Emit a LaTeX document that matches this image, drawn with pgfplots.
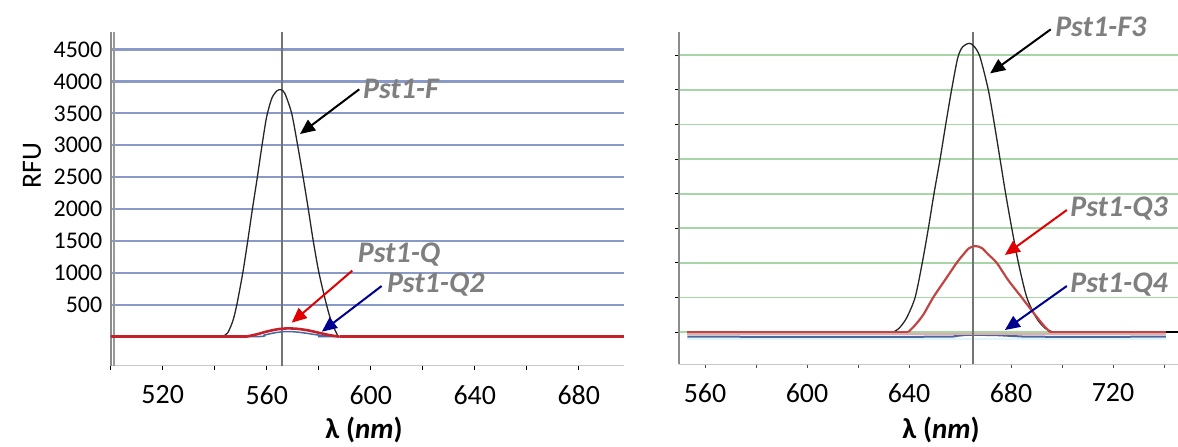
\documentclass[border=0pt]{standalone}
\usepackage{fontspec}
\setmainfont{Carlito}
\usepackage{pgfplots}
\pgfplotsset{compat=1.18}
\usetikzlibrary{arrows.meta}
\definecolor{gridblue}{HTML}{8A9AC8}
\definecolor{gridgreen}{HTML}{A6D6A6}
\definecolor{lblgray}{HTML}{7F7F7F}
\definecolor{qred}{HTML}{C8202A}
\definecolor{q3red}{HTML}{C04545}
\definecolor{q4blue}{HTML}{4A68A0}
\definecolor{arrred}{HTML}{E00000}
\definecolor{arrblue}{HTML}{000090}
\tikzset{lbl/.style={anchor=west, text=lblgray, inner sep=0pt, font=\bfseries\itshape\fontsize{30}{30}\selectfont},
  arr/.style={line width=2bp, -{Triangle[length=15bp,width=13bp]}}}
\begin{document}
\begin{tikzpicture}
\useasboundingbox (0,0) rectangle (1178bp,447bp);
% ---------------- left panel ----------------
\begin{axis}[
 at={(110.7bp,81.3bp)}, anchor=south west, scale only axis, width=513bp, height=334bp,
 xmin=500, xmax=697.3, ymin=-455, ymax=4780,
 axis x line=bottom, axis y line=left,
 x axis line style={-, draw=black!22, line width=1bp},
 y axis line style={-, draw=black!45, line width=2bp},
 xtick={500,520,...,680}, xticklabels={,520,,560,,600,,640,,680},
 ytick={500,1000,...,4500},
 ymajorgrids, grid style={gridblue, line width=2.2bp},
 tick align=outside, major tick length=4bp,
 xtick style={black, line width=0.8bp},
 ytick style={draw=none},
 xticklabel style={font=\fontsize{28}{28}\selectfont, yshift=-12bp},
 yticklabel style={font=\fontsize{24}{24}\selectfont, xshift=-1bp},
 /pgf/number format/assume math mode=true, /pgf/number format/1000 sep={},
 clip=false,
]
\addplot[black!40, line width=1.2bp] coordinates {(501.3,-455) (501.3,4780)};
\addplot[black!55, line width=1.5bp] coordinates {(565.8,-455) (565.8,4780)};
\addplot[black!85, line width=1.3bp] coordinates {(500,0) (543,0)};
\addplot[black!85, line width=1.3bp, smooth, tension=0.45] coordinates {(543,0) (545,60) (547,250) (548.5,500) (550.8,1000) (552.7,1500) (554.5,2000) (556.4,2500) (558.2,3000) (560,3450) (562,3740) (564,3855) (565.5,3870) (567,3810) (569.6,3500) (571.9,3000) (574,2500) (576,2000) (577.9,1500) (580.1,1000) (583,500) (585,220) (587.5,0)};
\addplot[black!85, line width=1.3bp] coordinates {(587.5,0) (697.3,0)};
\addplot[q4blue, line width=1.5bp, smooth, tension=0.4] coordinates {(500,0) (555,0) (559,25) (563,60) (567,80) (571,75) (575,55) (579,30) (583,10) (586,0) (697.3,0)};
\addplot[qred, line width=2.6bp] coordinates {(500,0) (552,0)};
\addplot[qred, line width=2.6bp, smooth, tension=0.4] coordinates {(552,0) (556,35) (560,80) (564,115) (568,130) (572,122) (576,98) (580,62) (584,25) (588,0)};
\addplot[qred, line width=2.6bp] coordinates {(588,0) (697.3,0)};
\draw[arr, black] (axis cs:595.6,3877) -- (axis cs:572.8,3176);
\node[lbl] at (axis cs:597,3877) {Pst1-F};
\draw[arr, arrred] (axis cs:592.9,1034) -- (axis cs:569.6,219);
\node[lbl] at (axis cs:595,1280) {Pst1-Q};
\draw[arr, arrblue] (axis cs:604.2,794) -- (axis cs:581.2,78);
\node[lbl] at (axis cs:606.2,810) {Pst1-Q2};
\end{axis}
% ---------------- right panel ----------------
\begin{axis}[
 at={(679bp,83bp)}, anchor=south west, scale only axis, width=499bp, height=332.3bp,
 xmin=549.8, xmax=745.5, ymin=-462, ymax=4340,
 axis x line=bottom, axis y line=left,
 x axis line style={-, draw=black!22, line width=1bp},
 y axis line style={-, draw=black!45, line width=1.5bp},
 xtick={560,580,...,740}, xticklabels={560,,600,,640,,680,,720,},
 ytick={0,500,...,4000}, yticklabels={},
 ymajorgrids, grid style={gridgreen, line width=1.8bp},
 tick align=outside, major tick length=4bp,
 xtick style={black!70, line width=0.8bp},
 ytick style={black, line width=1bp},
 xticklabel style={font=\fontsize{28}{28}\selectfont, yshift=-12bp},
 /pgf/number format/assume math mode=true, /pgf/number format/1000 sep={},
 clip=false,
]
\addplot[cyan!12, line width=2bp] coordinates {(553.1,-100) (740.7,-100)};
\addplot[q4blue, line width=2bp, smooth, tension=0.4] coordinates {(553.1,-68) (650,-68) (658,-58) (663,-40) (667,-42) (674,-45) (682,-60) (690,-68) (740.7,-68)};
\addplot[q3red!45, line width=1.6bp] coordinates {(553.1,-32) (740.7,-32)};
\addplot[black!55, line width=1.5bp] coordinates {(665,-462) (665,4340)};
\addplot[black!85, line width=1.3bp] coordinates {(553.1,0) (633.8,0)};
\addplot[black!85, line width=1.3bp, smooth, tension=0.45] coordinates {(633.8,0) (636,50) (639,200) (642.4,500) (645.2,1000) (647.6,1500) (649.8,2000) (652.2,2500) (654.4,3000) (656.7,3500) (659.1,3960) (661,4120) (663.6,4172) (665.5,4130) (667.8,3980) (671.1,3500) (673.5,3000) (675.7,2500) (677.9,2000) (680.3,1500) (682.9,1000) (686.2,500) (690,200) (693.5,50) (696.6,0)};
\addplot[black!85, line width=1.3bp] coordinates {(696.6,0) (740.7,0)};
\addplot[q3red, line width=2.2bp] coordinates {(553.1,0) (639.7,0)};
\addplot[q3red, line width=2.2bp, smooth, tension=0.45] coordinates {(639.7,0) (642.4,100) (645.6,250) (649.5,500) (654.1,750) (658.7,1000) (661.3,1120) (663.5,1210) (665.9,1243) (668.5,1215) (671.1,1120) (674.4,1000) (678.9,750) (684.2,500) (689.4,250) (692.7,100) (695.3,0)};
\addplot[q3red, line width=2.2bp] coordinates {(695.3,0) (740.7,0)};
\addplot[black, line width=1.5bp] coordinates {(740.7,0) (745.5,0)};
\draw[arr, black] (axis cs:695.6,4374) -- (axis cs:671.8,3738);
\node[lbl] at (axis cs:697.3,4412) {Pst1-F3};
\draw[arr, arrred] (axis cs:701.9,1763) -- (axis cs:677.6,1113);
\node[lbl] at (axis cs:703.2,1788) {Pst1-Q3};
\draw[arr, arrblue] (axis cs:701.9,665) -- (axis cs:677.6,29);
\node[lbl] at (axis cs:703.2,689) {Pst1-Q4};
\end{axis}
% axis titles
\node[rotate=90, font=\fontsize{28}{28}\selectfont] at (32bp,281bp) {RFU};
\node[anchor=base, font=\bfseries\fontsize{29}{29}\selectfont] at (364bp,8.5bp) {λ (\textit{nm})};
\node[anchor=base, font=\bfseries\fontsize{29}{29}\selectfont] at (941bp,8.5bp) {λ (\textit{nm})};
\end{tikzpicture}
\end{document}
